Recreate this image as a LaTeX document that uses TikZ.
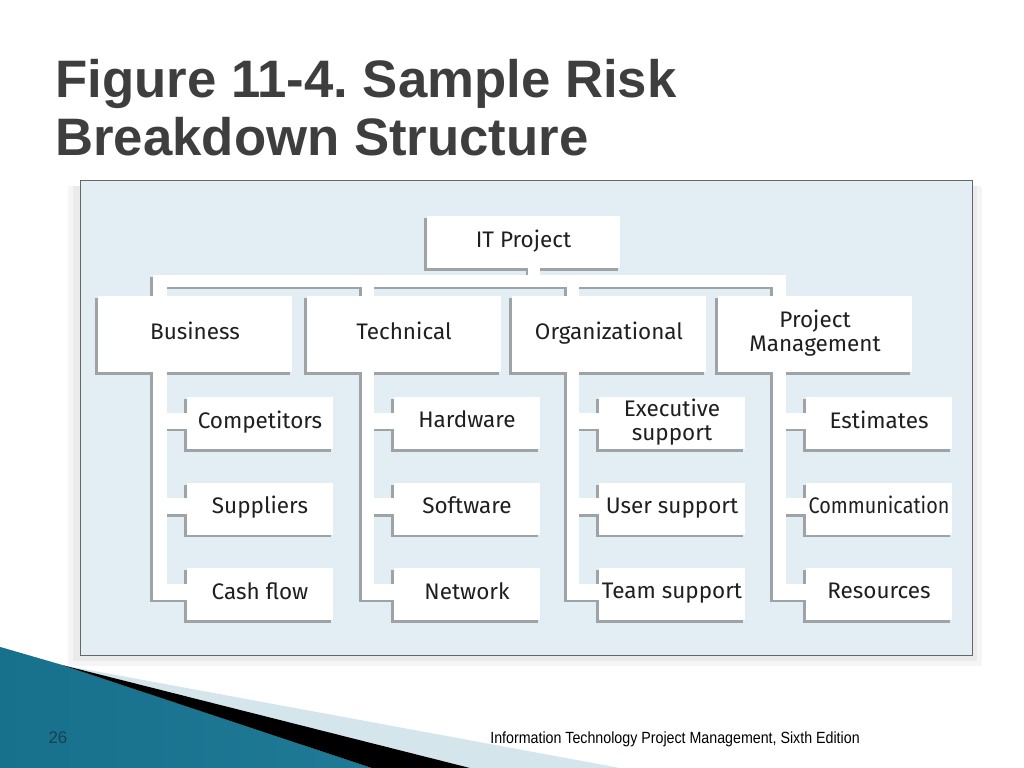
\documentclass[tikz,border=0pt]{standalone}
\usepackage{fontspec}
\setmainfont{Liberation Sans}
\newfontfamily\boxfont{Fira Sans}
\newfontfamily\footfont[FakeStretch=0.88]{Liberation Sans}
\usetikzlibrary{positioning, calc}
\definecolor{panelBlue}{HTML}{E2EEF3}
\definecolor{edgeGrey}{HTML}{9DA3A6}
\definecolor{titleGrey}{HTML}{3E3E3E}
\definecolor{tealDark}{HTML}{17708C}
\definecolor{tealLight}{HTML}{4DB3D2}
\definecolor{paleBlue}{HTML}{D5E5EC}
\definecolor{pageNum}{HTML}{1B3F50}
\pgfdeclarelayer{background}
\pgfdeclarelayer{wires}
\pgfsetlayers{background,wires,main}
\frenchspacing

% white bands of the tree (drawn once as shade, once in white)
\newcommand{\riskwires}[1]{%
  \fill[#1] ($(root.south)+(4.5,-1)$) rectangle ($(root.south)+(16.5,8)$);
  \fill[#1] ($(bus.north west)+(55,-21)$) rectangle ($(pm.north west)+(68,-9)$);
  \foreach \col in {bus,tec,org,pm}{
    \fill[#1] ($(\col.north west)+(55,-21)$) rectangle ($(\col3.north west)+(-20,32)$);
    \foreach \k in {1,2,3}
      \fill[#1] ($(\col\k.north west)+(-21,16)$) rectangle ($(\col\k.north west)+(0,32)$);
  }%
}

\begin{document}
\begin{tikzpicture}[x=0.025cm, y=-0.025cm,
  box/.style={fill=white, inner sep=0pt, align=center, text=black!88,
    font=\boxfont\fontsize{16}{17}\selectfont, execute at begin node=\strut},
  rootbox/.style={box, minimum width=4.825cm, minimum height=1.3cm},
  catbox/.style={box, minimum width=4.85cm, minimum height=1.9cm},
  leafbox/.style={box, minimum width=3.65cm, minimum height=1.3cm},
  wire/.style={fill=white},
  shade/.style={fill=edgeGrey}]

  \path[use as bounding box] (0,0) rectangle (1024,768);

  % slide title
  \node[anchor=base west, inner sep=0pt, text=titleGrey,
    font=\bfseries\fontsize{37.5}{40}\selectfont] (title1) at (55,98) {Figure 11-4. Sample Risk};
  \node[anchor=base west, inner sep=0pt, text=titleGrey,
    font=\bfseries\fontsize{37.5}{40}\selectfont] (title2) at (55,155) {Breakdown Structure};

  % tree boxes
  \node[rootbox] (root) at (523.5,242) {IT Project};
  \node[catbox] (bus) at (195,334) {Business};
  \node[catbox] (tec) at (404,334) {Technical};
  \node[catbox] (org) at (609,334) {Organizational};
  \node[catbox] (pm) at (815,334) {Project\\Management};

  \foreach \col/\cx/\ta/\tb/\tc in {
      bus/260/Competitors/Suppliers/Cash flow,
      tec/467/Hardware/Software/Network,
      org/672/{Executive\\support}/User support/Team support,
      pm/879/Estimates/{\scalebox{0.88}[1]{Communication}}/Resources}{
    \node[leafbox] (\col1) at (\cx,423) {\ta};
    \node[leafbox, below=0.825cm of \col1] (\col2) {\tb};
    \node[leafbox, below=0.825cm of \col2] (\col3) {\tc};
  }

  \begin{pgfonlayer}{background}
    \fill[white] (0,0) rectangle (1024,768);
    % panel with soft shadow
    \fill[black!4] (68,186) rectangle (982,666);
    \fill[black!8] (73,186) rectangle (977,661);
    \fill[panelBlue, draw=black!60, line width=0.7pt] (80,180) rectangle (972,655);
    % corner decoration
    \shade[left color=tealDark, middle color=tealLight, right color=tealDark!85!tealLight]
      (0,647) -- (62,665) -- (372,768) -- (0,768) -- cycle;
    \fill[paleBlue] (62,665) -- (620,768) -- (470,768) -- cycle;
    \fill[black] (62,665) -- (470,768) -- (372,768) -- cycle;
    % shadow edges of the tree
    \begin{scope}[transform canvas={shift={(-2.5,2.5)}}]
      \foreach \n in {root,bus,tec,org,pm,bus1,bus2,bus3,tec1,tec2,tec3,
          org1,org2,org3,pm1,pm2,pm3}
        \fill[shade] (\n.south west) rectangle (\n.north east);
      \riskwires{shade}
    \end{scope}
  \end{pgfonlayer}

  \begin{pgfonlayer}{wires}
    \riskwires{wire}
  \end{pgfonlayer}

  % footer
  \node[anchor=base, inner sep=0pt, text=pageNum, font=\fontsize{12}{13}\selectfont] (pagenum) at (58,743) {26};
  \node[anchor=base, inner sep=0pt, text=black, font=\footfont\fontsize{11.5}{12}\selectfont] (footer) at (675,743)
    {Information Technology Project Management, Sixth Edition};
\end{tikzpicture}
\end{document}
